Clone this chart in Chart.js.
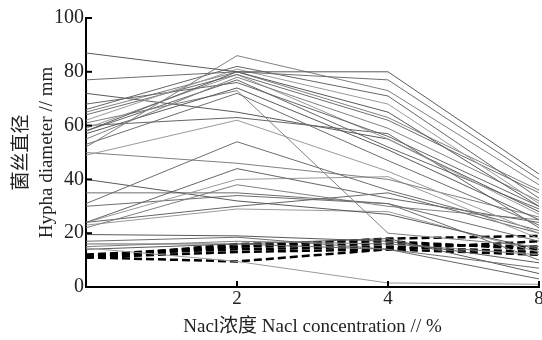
<!doctype html>
<html>

<head>
	<title>Hypha diameter</title>
	<script src="https://cdn.jsdelivr.net/npm/chart.js@4/dist/chart.umd.min.js"></script>
	<style>
		body { margin: 0; background: #fff; }
		#holder { width: 542px; height: 340px; }
	</style>
</head>

<body>
	<div id="holder">
		<canvas id="chart-area" width="542" height="340"></canvas>
	</div>
	<script>
		// NaCl concentration (%), plotted as evenly spaced categories
		const concentrations = ['0', '2', '4', '8'];
		const yTicks = [0, 20, 40, 60, 80, 100];

		// hypha diameter of each strain, one row per strain (gray lines)
		const solidSeries = [
			[87, 80, 80, 42],
			[77, 80, 77, 40],
			[52, 86, 73, 38],
			[66, 82, 71, 33],
			[62, 81, 68, 31],
			[58, 80, 65, 30],
			[64, 79, 62, 35],
			[55, 78, 59, 32],
			[68, 76, 56, 30],
			[59, 79, 55, 27],
			[57, 74, 51, 25],
			[53, 72, 47, 23],
			[61, 73, 20, 15],
			[60, 63, 57, 22],
			[49, 62, 43, 20],
			[72, 65, 55, 28],
			[31, 54, 36, 21],
			[50, 46, 40, 26],
			[24, 44, 33, 24],
			[24, 40, 41, 18],
			[40, 32, 27, 14],
			[35, 35, 31, 17],
			[22, 38, 30, 25],
			[24, 30, 35, 20],
			[23, 29, 28, 13],
			[19.5, 19, 17, 9],
			[17, 18.5, 14, 7],
			[15, 17, 16, 12],
			[16, 16, 14, 3],
			[14.5, 9.5, 1.5, 1],
			[14, 16, 18, 5],
			[30, 34, 31, 10],
			[65, 80, 63, 36],
			[58, 77, 52, 29]
		];

		// strains drawn as thick dashed black lines
		const dashedSeries = [
			[11, 16, 17, 14],
			[11, 15, 16, 15],
			[12, 14, 15, 13],
			[11, 13, 14, 12],
			[11, 9.5, 14, 17],
			[12, 15, 18, 19]
		];

		const serif = "'Liberation Serif', 'Noto Sans CJK SC', serif";
		const grays = ['#5a5a5a', '#6e6e6e', '#808080', '#666666', '#9a9a9a'];

		const datasets = [];
		solidSeries.forEach((row, i) => {
			datasets.push({
				label: 'strain ' + (i + 1),
				data: row,
				borderColor: grays[i % grays.length],
				borderWidth: 1,
				pointRadius: 0,
				tension: 0
			});
		});
		dashedSeries.forEach((row, i) => {
			datasets.push({
				label: 'dashed ' + (i + 1),
				data: row,
				borderColor: '#000',
				borderWidth: 2.5,
				borderDash: [8, 4],
				pointRadius: 0,
				tension: 0
			});
		});

		// small tick marks pointing into the plot
		const innerTicks = {
			id: 'innerTicks',
			afterDraw(chart) {
				const {ctx, chartArea: a, scales: {x, y}} = chart;
				ctx.save();
				ctx.strokeStyle = '#000';
				ctx.lineWidth = 2;
				y.ticks.forEach((t, i) => {
					const py = y.getPixelForTick(i);
					ctx.beginPath();
					ctx.moveTo(a.left, py);
					ctx.lineTo(a.left + 6, py);
					ctx.stroke();
				});
				x.ticks.forEach((t, i) => {
					if (i === 0) return;
					const px = x.getPixelForTick(i);
					ctx.beginPath();
					ctx.moveTo(px, a.bottom);
					ctx.lineTo(px, a.bottom - 6);
					ctx.stroke();
				});
				ctx.restore();
			}
		};

		const config = {
			type: 'line',
			data: {
				labels: concentrations,
				datasets: datasets
			},
			options: {
				responsive: false,
				animation: false,
				layout: { padding: { top: 18, right: 3, left: 0, bottom: 0 } },
				plugins: {
					legend: { display: false },
					tooltip: { enabled: false }
				},
				scales: {
					x: {
						type: 'category',
						offset: false,
						grid: { drawOnChartArea: false, drawTicks: false },
						border: { display: true, color: '#000', width: 2 },
						ticks: {
							color: '#222',
							padding: 1,
							maxRotation: 0,
							font: { family: serif, size: 19 },
							callback: (v, i) => (i === 0 ? '' : concentrations[i])
						},
						title: {
							display: true,
							text: 'Nacl浓度 Nacl concentration // %',
							color: '#222',
							font: { family: serif, size: 19 },
							padding: { top: 0, bottom: 2 }
						},
						afterFit: (s) => {
							s.height = 53;
							s.paddingLeft = 0;
							s.paddingRight = 0;
						}
					},
					y: {
						min: 0,
						max: 100,
						grid: { drawOnChartArea: false, drawTicks: false },
						border: { display: true, color: '#000', width: 2 },
						afterBuildTicks: (s) => {
							s.ticks = yTicks.map(v => ({ value: v }));
						},
						ticks: {
							color: '#222',
							padding: 2,
							font: { family: serif, size: 20 }
						},
						title: {
							display: true,
							text: ['菌丝直径', 'Hypha diameter // mm'],
							color: '#222',
							font: { family: serif, size: 19, lineHeight: 1.3 },
							padding: { top: 10, bottom: 0 }
						},
						afterFit: (s) => {
							s.width = 86;
							s.paddingTop = 0;
							s.paddingBottom = 0;
						}
					}
				}
			},
			plugins: [innerTicks]
		};

		window.onload = function() {
			const ctx = document.getElementById('chart-area').getContext('2d');
			window.myLine = new Chart(ctx, config);
		};
	</script>
</body>

</html>
